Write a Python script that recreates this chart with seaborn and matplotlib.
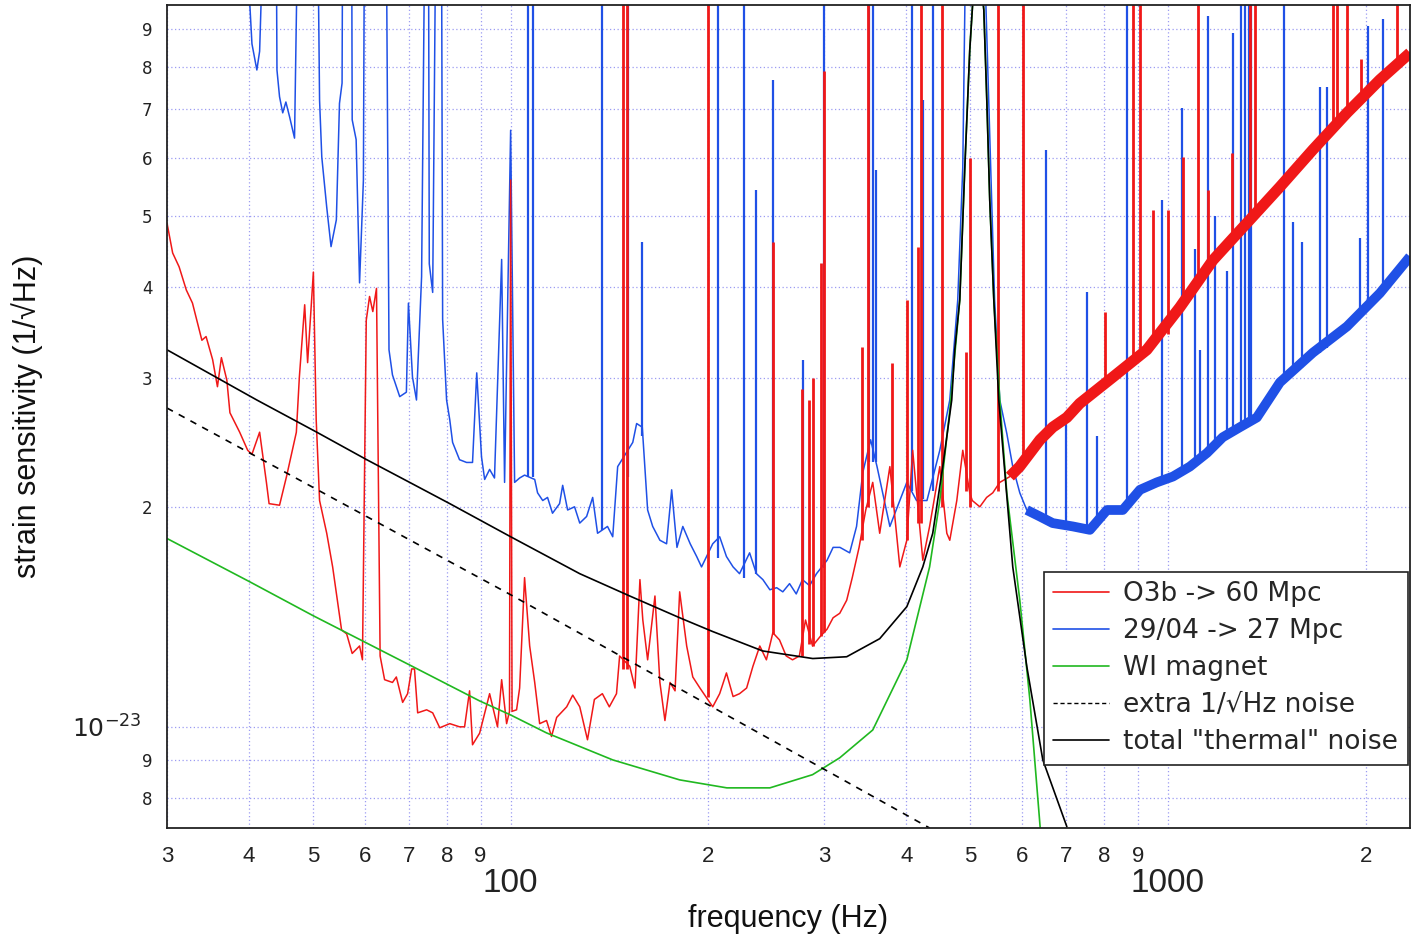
import matplotlib
matplotlib.use("Agg")
import numpy as np
import pandas as pd
import matplotlib.pyplot as plt
import matplotlib.ticker as mticker
from matplotlib.lines import Line2D
import seaborn as sns

# all strain values are in units of 1e-23 / sqrt(Hz)
SCALE = 1e-23

# O3b spectrum (red), smooth part of the trace
red_freq = [30.0, 30.6, 31.3, 32.1, 32.8, 33.9, 34.4, 35.2, 35.8, 36.3, 37.0, 37.4, 38.7, 39.8,
            40.4, 41.5, 42.5, 42.9, 44.5, 45.6, 47.2, 47.7, 48.6, 49.1, 50.1, 50.6, 51.2, 52.5,
            53.6, 55.3, 56.3, 57.4, 58.9, 59.5, 60.3, 61.0, 61.7, 62.5, 63.3, 64.3, 66.1, 67.0,
            68.5, 69.7, 70.7, 71.4, 72.2, 74.5, 76.1, 78.0, 80.8, 83.6, 85.1, 86.6, 87.5, 89.7,
            92.9, 95.5, 96.9, 98.6, 99.6, 100.0, 100.5, 102.1, 103.2, 105.0, 106.9, 108.8, 110.7,
            113.4, 115.4, 117.5, 121.7, 124.3, 127.4, 130.9, 134.1, 137.9, 141.3, 144.9, 146.5,
            151.8, 154.6, 157.3, 158.9, 161.6, 165.8, 168.7, 171.7, 174.8, 177.9, 180.8, 185.3,
            189.3, 194.1, 203, 208, 213, 218, 223, 228.6, 233.7, 239.4, 245, 250.6, 256.5, 262.6,
            268.5, 275, 281, 288, 296, 303, 309.5, 316.8, 324.6, 331, 339, 347, 355.6, 364.4,
            377.6, 391, 400.7, 409, 423.8, 434, 449.8, 461, 465.8, 477.4, 487.5, 499.6, 504,
            517.5, 530, 541.5, 555, 575, 595, 639, 668, 702, 734.5, 825, 929, 1043, 1171, 1319,
            1481, 1662, 1873, 2102, 2336]
red_val = [4.89, 4.45, 4.26, 3.96, 3.80, 3.38, 3.42, 3.18, 2.92, 3.20, 2.98, 2.69, 2.53, 2.39,
           2.36, 2.53, 2.16, 2.02, 2.01, 2.20, 2.53, 3.01, 3.78, 3.15, 4.19, 2.63, 2.04, 1.84,
           1.655, 1.357, 1.34, 1.26, 1.29, 1.235, 3.60, 3.88, 3.70, 3.98, 1.25, 1.16, 1.15, 1.17,
           1.08, 1.11, 1.20, 1.20, 1.045, 1.055, 1.045, 0.997, 1.01, 1.0, 1.0, 1.12, 0.945, 0.98,
           1.11, 1.0, 1.16, 1.01, 1.05, 5.6, 1.05, 1.055, 1.13, 1.60, 1.29, 1.15, 1.01,
           1.02, 0.97, 1.03, 1.065, 1.105, 1.065, 0.96, 1.09, 1.11, 1.065, 1.11, 1.25,
           1.21, 1.13, 1.59, 1.40, 1.235, 1.51, 1.15, 1.02, 1.15, 1.12, 1.53, 1.29,
           1.17, 1.13, 1.065, 1.11, 1.185, 1.10, 1.11, 1.13, 1.21, 1.29, 1.235, 1.345, 1.315, 1.25,
           1.235, 1.25, 1.40, 1.29, 1.33, 1.36, 1.41, 1.43, 1.49, 1.60, 1.76, 1.98, 2.16, 1.84,
           2.27, 1.655, 1.80, 2.39, 1.69, 1.88, 2.27, 1.84, 1.80, 2.04, 2.39, 2.09, 2.04,
           2.0, 2.06, 2.09, 2.16, 2.20, 2.27, 2.47, 2.57, 2.65, 2.77, 3.01, 3.28, 3.75, 4.35, 4.89,
           5.48, 6.16, 6.92, 7.68, 8.36]
# narrow lines of the O3b spectrum: frequency, foot and tip
red_line_freq = [148.1, 150.1, 199.5, 250.6, 277.6, 284.3, 288, 296.6, 299.8, 342, 349.5, 380,
                 401, 416, 420.7, 452.9, 492.6, 500, 551, 601.6, 802, 885, 907, 950, 1000, 1054,
                 1111, 1151, 1254, 1333, 1357, 1783, 1808, 1873, 1966, 2232]
red_line_base = [1.2, 1.2, 1.1, 1.34, 1.25, 1.3, 1.29, 1.33, 1.35, 1.8, 2.0, 2.0,
                 1.8, 1.9, 1.9, 2.0, 2.1, 2.0, 2.1, 2.3, 2.95, 3.15, 3.2, 3.33, 3.45, 3.8,
                 4.1, 4.3, 4.65, 4.95, 5.05, 6.6, 6.65, 6.9, 7.25, 8.0]
red_line_top = [12, 12, 12, 4.6, 2.9, 2.8, 3.0, 4.31, 7.9, 3.31, 12, 3.15,
                3.84, 4.54, 12, 12, 3.26, 6.0, 12, 12, 3.69, 12, 12, 5.1, 5.1, 6.02,
                12, 5.43, 6.1, 12, 12, 12, 12, 12, 8.2, 12]

# 29/04 spectrum (blue)
blue_freq = [39.6, 40.4, 41.1, 41.5, 42.0, 44.0, 44.1, 44.5, 45.0, 45.5, 46.1, 46.9, 47.4, 50.9,
             51.2, 51.6, 52.5, 53.3, 54.3, 54.9, 55.4, 55.5, 57.3, 57.4, 58.2, 58.9, 59.7, 59.9,
             64.7, 65.3, 66.1, 67.8, 69.4, 69.9, 70.9, 71.9, 73.2, 74.0, 75.0, 75.2, 76.1, 76.9,
             78.5, 78.8, 79.9, 80.8, 81.6, 83.6, 85.7, 87.5, 88.8, 90.3, 91.3, 92.9, 94.5, 96.9,
             97.9, 100.0, 101.4, 103.2, 105.0, 108.8, 109.9, 111.9, 113.8, 115.8, 118.7, 120.0,
             122.1, 125.1, 127.4, 130.5, 133.3, 135.6, 140.4, 143.0, 145.5, 153.4, 155.5, 158.6,
             161.6, 164.5, 168.7, 172.7, 175.8, 179.1, 182.8, 187.6, 191.9, 195.2, 203, 208, 213,
             218, 223, 231, 236.6, 242, 248, 254, 259.5, 265.7, 272, 278, 285, 292, 303, 309.5,
             317, 328, 336, 343.5, 353, 361, 377.6, 400.7, 414.6, 430, 449.8, 465.8, 479, 487.5,
             492.6, 525, 545, 555, 568.8, 580.8, 595.3, 610, 638.6, 668, 717, 761, 808, 854, 907,
             962, 1018, 1080, 1147, 1212, 1287, 1366, 1481, 1662, 1873, 2102, 2336]
blue_val = [12, 8.6, 7.92, 8.4, 12, 12, 7.92, 7.28, 6.92, 7.16, 6.83, 6.39, 12, 12,
            7.2, 6.02, 5.14, 4.54, 4.94, 7.13, 7.6, 12, 12, 6.77, 6.36, 4.05, 5.6, 12,
            12, 3.28, 3.03, 2.83, 2.87, 3.80, 3.01, 2.80, 4.13, 12, 12, 4.3, 3.93, 12,
            12, 3.61, 2.80, 2.63, 2.45, 2.32, 2.30, 2.30, 3.05, 2.34, 2.18, 2.25, 2.19, 4.36,
            2.16, 6.55, 2.16, 2.19, 2.21, 2.18, 2.09, 2.04, 2.06, 1.96, 2.02, 2.14,
            1.98, 2.0, 1.90, 1.94, 2.06, 1.84, 1.88, 1.82, 2.27, 2.45, 2.60, 2.57,
            1.98, 1.88, 1.80, 1.78, 2.11, 1.76, 1.88, 1.78, 1.71, 1.655, 1.78, 1.82, 1.71,
            1.655, 1.62, 1.73, 1.62, 1.59, 1.54, 1.55, 1.53, 1.57, 1.52, 1.59, 1.56, 1.62, 1.69, 1.76,
            1.76, 1.73, 1.88, 2.23, 2.47, 2.27, 1.88, 2.16, 2.04, 2.04, 2.39, 2.80, 3.84, 5.83,
            12, 12, 3.84, 2.80, 2.52, 2.27, 2.09, 1.98, 1.94, 1.90, 1.88, 1.86, 1.98, 1.98, 2.11,
            2.16, 2.20, 2.27, 2.37, 2.49, 2.57, 2.65, 2.96, 3.25, 3.53, 3.92, 4.40]
blue_line_freq = [106.1, 108.0, 137.5, 150.6, 158.3, 206.6, 226.5, 236, 250.6, 279, 299.8, 351,
                  355.6, 359.4, 407.6, 423.8, 439, 652, 700, 753, 780, 866, 980, 1050, 1100,
                  1118, 1151, 1180, 1230, 1256, 1290, 1310, 1330, 1340, 1502, 1549, 1600, 1703,
                  1746, 1958, 2016, 2124]
blue_line_base = [2.2, 2.2, 1.86, 2.2, 2.5, 1.7, 1.6, 1.62, 1.54, 1.59, 1.65, 2.3,
                  2.3, 2.3, 2.1, 2.05, 2.1, 1.9, 1.88, 1.86, 1.87, 2.0, 2.15, 2.25, 2.3,
                  2.3, 2.35, 2.4, 2.5, 2.55, 2.6, 2.6, 2.65, 2.65, 3.0, 3.05, 3.1, 3.25,
                  3.3, 3.7, 3.8, 3.95]
blue_line_top = [12, 12, 12, 12, 4.6, 12, 12, 5.42, 7.68, 3.18, 12, 12,
                 12, 5.78, 12, 7.2, 12, 6.16, 2.6, 3.94, 2.5, 12, 5.25, 7.03, 4.5,
                 3.28, 9.4, 5.0, 4.2, 8.9, 12, 12, 12, 12, 12, 4.9, 4.6, 7.5,
                 7.5, 4.67, 9.1, 9.3]

# WI magnet model (green)
green_freq = [30, 40.1, 50, 70.2, 89.7, 100, 113.4, 143, 180.8, 213.3, 248, 288, 316.8, 355.6,
              400.7, 434, 449.8, 465.8, 482.4, 491, 499.6, 512, 524.8, 530.3, 535.8, 543.5, 555,
              568.8, 595.3, 616.6, 640]
green_val = [1.81, 1.579, 1.42, 1.215, 1.085, 1.038, 0.981, 0.901, 0.846, 0.825, 0.825, 0.86,
             0.907, 0.99, 1.235, 1.655, 2.04, 2.71, 3.84, 5.83, 8.44, 12, 9.57, 7.21, 5.26, 3.84,
             2.8, 2.09, 1.49, 1.09, 0.72]

# extra 1/sqrt(Hz) noise (dashed)
extra_freq = [30, 100, 434]
extra_val = [2.73, 1.516, 0.727]

# total "thermal" noise (black)
thermal_freq = [30, 41.1, 50.7, 60.4, 70.2, 80.8, 100, 127.4, 151.8, 180.8, 203, 241.8, 288.2,
                324.6, 364.4, 400.7, 423.8, 438.8, 454.5, 469, 474, 482.4, 491, 499.6, 512,
                524.8, 530.3, 535.8, 543.5, 553, 580.8, 610.2, 645.3, 702]
thermal_val = [3.28, 2.80, 2.53, 2.32, 2.16, 2.02, 1.82, 1.62, 1.51, 1.41, 1.35, 1.27, 1.24,
               1.247, 1.32, 1.46, 1.655, 1.84, 2.27, 2.80, 3.28, 3.84, 5.83, 8.44, 12,
               9.57, 7.21, 5.26, 3.84, 2.80, 1.655, 1.208, 0.901, 0.730]

labels = ['O3b -> 60 Mpc', '29/04 -> 27 Mpc', 'WI magnet', 'extra 1/\u221aHz noise',
          'total "thermal" noise']

x_minor_ticks = [30, 40, 50, 60, 70, 80, 90, 200, 300, 400, 500, 600, 700, 800, 900, 2000]
x_minor_labels = ['3', '4', '5', '6', '7', '8', '9', '2', '3', '4', '5', '6', '7', '8', '9', '2']
x_major_ticks = [100, 1000]
x_major_labels = ['100', '1000']
y_minor_ticks = [0.8, 0.9, 2, 3, 4, 5, 6, 7, 8, 9]
y_minor_labels = ['8', '9', '2', '3', '4', '5', '6', '7', '8', '9']

RED = '#f01818'
BLUE = '#1f50e6'
GREEN = '#20b820'

sns.set_style("white")
plt.rcParams['font.family'] = ['DejaVu Sans']
plt.rcParams['mathtext.fontset'] = 'dejavusans'
narrow = ['Liberation Sans', 'DejaVu Sans']

fig = plt.figure(figsize=(14.22, 9.34), dpi=100)
ax = fig.add_axes([167 / 1422, 1 - 828 / 934, (1410 - 167) / 1422, (828 - 5) / 934])
ax.set_xscale('log')
ax.set_yscale('log')


def frame(f, v):
    return pd.DataFrame({'freq': f, 'strain': np.array(v) * SCALE})


red = frame(red_freq, red_val)
blue = frame(blue_freq, blue_val)

# blue trace, lines and noisy high-frequency band
sns.lineplot(data=blue, x='freq', y='strain', sort=False, estimator=None,
             color=BLUE, lw=1.1, ax=ax, legend=False)
ax.vlines(blue_line_freq, np.array(blue_line_base) * SCALE, np.array(blue_line_top) * SCALE,
          color=BLUE, lw=1.6)
hb = blue[blue['freq'] >= 600]
ax.plot(hb['freq'], hb['strain'], color=BLUE, lw=7, solid_capstyle='butt',
        solid_joinstyle='round')

# red trace
sns.lineplot(data=red, x='freq', y='strain', sort=False, estimator=None,
             color=RED, lw=1.1, ax=ax, legend=False)
ax.vlines(red_line_freq, np.array(red_line_base) * SCALE, np.array(red_line_top) * SCALE,
          color=RED, lw=2)
hr = red[red['freq'] >= 560]
ax.plot(hr['freq'], hr['strain'], color=RED, lw=8, solid_capstyle='butt',
        solid_joinstyle='round')

# models
sns.lineplot(data=frame(green_freq, green_val), x='freq', y='strain', sort=False,
             estimator=None, color=GREEN, lw=1.2, ax=ax, legend=False)
sns.lineplot(data=frame(extra_freq, extra_val), x='freq', y='strain', sort=False,
             estimator=None, color='black', lw=1.2, ax=ax, legend=False)
ax.lines[-1].set_linestyle((0, (4, 4)))
sns.lineplot(data=frame(thermal_freq, thermal_val), x='freq', y='strain', sort=False,
             estimator=None, color='black', lw=1.2, ax=ax, legend=False)

ax.set_xlim(30, 2336)
ax.set_ylim(7.27e-24, 9.72e-23)

# ticks
ax.xaxis.set_major_locator(mticker.FixedLocator(x_major_ticks))
ax.xaxis.set_major_formatter(mticker.FixedFormatter(x_major_labels))
ax.xaxis.set_minor_locator(mticker.FixedLocator(x_minor_ticks))
ax.xaxis.set_minor_formatter(mticker.FixedFormatter(x_minor_labels))
ax.yaxis.set_major_locator(mticker.FixedLocator([SCALE]))
ax.yaxis.set_major_formatter(mticker.FixedFormatter([r'$\mathregular{10^{-23}}$']))
ax.yaxis.set_minor_locator(mticker.FixedLocator([v * SCALE for v in y_minor_ticks]))
ax.yaxis.set_minor_formatter(mticker.FixedFormatter(y_minor_labels))

ax.tick_params(which='both', direction='out', color='#222222', width=1.1,
               top=False, right=False, labelcolor='#222222')
ax.tick_params(axis='x', which='minor', length=8, pad=5, labelsize=16,
               labelfontfamily=narrow)
ax.tick_params(axis='x', which='major', length=15, pad=14, labelsize=24,
               labelfontfamily=narrow)
ax.tick_params(axis='y', which='minor', length=7.5, pad=3, labelsize=12)
ax.tick_params(axis='y', which='major', length=15, pad=3, labelsize=18)

ax.grid(True, which='both', color='#9c9cf2', ls=(0, (1, 2)), lw=0.9)
ax.set_axisbelow(True)
for s in ax.spines.values():
    s.set_color('#222222')
    s.set_linewidth(1.3)
    s.set_visible(True)

ax.set_xlabel('frequency (Hz)', fontsize=22, family=narrow, color='#111111')
ax.set_ylabel('strain sensitivity (1/\u221aHz)', fontsize=22, family=narrow, color='#111111')
ax.xaxis.set_label_coords(0.5, -0.092)
ax.yaxis.set_label_coords(-0.1, 0.5)

handles = [Line2D([], [], color=RED, lw=1.2),
           Line2D([], [], color=BLUE, lw=1.2),
           Line2D([], [], color=GREEN, lw=1.2),
           Line2D([], [], color='black', lw=1.0, ls=(0, (3, 2))),
           Line2D([], [], color='black', lw=1.2)]
leg = ax.legend(handles, labels, loc='lower right', bbox_to_anchor=(0.998, 0.077),
                fontsize=19, frameon=True, fancybox=False, framealpha=1,
                edgecolor='#222222', handlelength=2.1, handletextpad=0.55,
                labelspacing=0.42, borderpad=0.35, borderaxespad=0)
leg.get_frame().set_linewidth(1.2)

fig.savefig('out.png', dpi=100)
